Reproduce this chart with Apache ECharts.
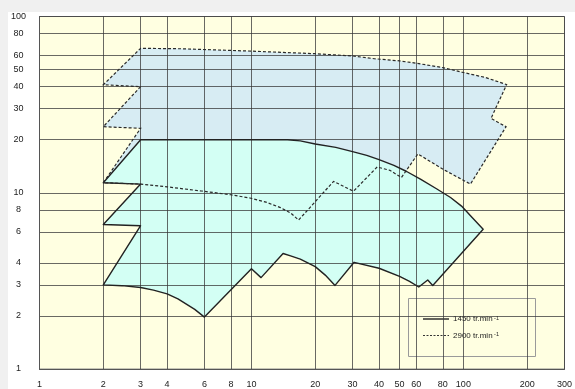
<!DOCTYPE html>
<html><head><meta charset="utf-8">
<script src="https://cdn.jsdelivr.net/npm/echarts@6/dist/echarts.min.js"></script>
<style>
html,body{margin:0;padding:0;background:#f0f0f0;width:575px;height:389px;overflow:hidden}
#c{position:absolute;left:8px;top:12px;width:567px;height:377px;background:#ffffff}
</style>
</head><body><div id="c"></div>
<script>
// Tick / grid values
const xTicks = [1, 2, 3, 4, 6, 8, 10, 20, 30, 40, 50, 60, 80, 100, 200, 300];
const yTicks = [1, 2, 3, 4, 6, 8, 10, 20, 30, 40, 50, 60, 80, 100];

// 1450 tr/min operating envelope (flow, head)
const x1450 = [2, 3, 2, 3, 2, 3, 6, 10, 14.8, 17, 20, 25, 30, 35, 40, 47, 54, 63, 75, 87, 98, 110, 124,
               71.7, 67.9, 61.6, 55.7, 50, 40, 30.5, 24.8, 22.3, 20, 17, 15.3, 14.1, 11.1, 10, 6, 5.4, 4.5, 4, 3.45, 3, 2.45, 2];
const y1450 = [3, 6.5, 6.6, 11.2, 11.4, 20, 20, 20, 20, 19.7, 18.9, 18.1, 17.1, 16.3, 15.4, 14.3, 13.2, 11.9, 10.5, 9.4, 8.4, 7.24, 6.2,
               2.98, 3.2, 2.92, 3.14, 3.35, 3.73, 4.03, 2.98, 3.41, 3.81, 4.2, 4.38, 4.52, 3.3, 3.7, 1.97, 2.18, 2.5, 2.67, 2.8, 2.9, 2.97, 3];

// 2900 tr/min operating envelope (flow, head)
const x2900 = [2, 3, 2, 3, 2, 3, 4.7, 10, 20, 30, 38, 50, 60, 80, 100, 127, 160, 135, 159, 108,
               81, 61, 51, 45, 39.2, 30.3, 24.4, 16.7, 15.3, 13.7, 11.7, 9.94, 8, 5.8, 4, 3, 2];
const y2900 = [11.4, 23.2, 23.7, 40, 41, 66, 65.6, 63.6, 61.5, 59.7, 57.6, 56, 54.3, 51.3, 48.1, 45.1, 41.1, 26.4, 23.7, 11.2,
               13.5, 16.6, 12.2, 13.4, 14, 10.2, 11.6, 7.0, 7.68, 8.24, 8.85, 9.31, 9.74, 10.23, 10.8, 11.2, 11.4];

const legendLabels = ['1450 tr.min', '2900 tr.min'];
const legendSup = '-1';

function pts(xs, ys) { return xs.map((x, i) => [x, ys[i]]); }
const poly1450 = pts(x1450, y1450);
const poly2900 = pts(x2900, y2900);

function polySeries(name, points, style, z) {
  return {
    type: 'custom', name: name, coordinateSystem: 'cartesian2d', z: z,
    data: points, encode: { x: 0, y: 1 }, silent: true, animation: false,
    renderItem: function (params, api) {
      if (params.dataIndex !== 0) return null;
      const p = points.map(q => api.coord(q));
      return { type: 'polygon', shape: { points: p }, style: style };
    }
  };
}

const FONT = 'Liberation Sans, Arial, sans-serif';
const gridLine = { show: true, lineStyle: { color: 'rgba(55,55,55,0.75)', width: 1 } };

const chart = echarts.init(document.getElementById('c'), null, { renderer: 'canvas' });
chart.setOption({
  animation: false,
  grid: { left: 29, top: 3, width: 529, height: 357, show: true,
          backgroundColor: '#FFFFE1', borderColor: '#8c8c8c', borderWidth: 1 },
  xAxis: {
    type: 'log', logBase: 10, min: 1, max: 300, z: 3,
    axisLine: { show: true, lineStyle: { color: '#555', width: 1 } },
    axisTick: { show: false, customValues: xTicks },
    axisLabel: { customValues: xTicks, fontSize: 9, color: '#222', margin: 11, fontFamily: FONT,
                 formatter: v => String(v) },
    splitLine: gridLine
  },
  yAxis: {
    type: 'log', logBase: 10, min: 1, max: 100, z: 3,
    axisLine: { show: true, lineStyle: { color: '#555', width: 1 } },
    axisTick: { show: false, customValues: yTicks },
    axisLabel: { customValues: yTicks, fontSize: 9, color: '#222', margin: 21, align: 'center',
                 fontFamily: FONT, formatter: v => String(v) },
    splitLine: gridLine
  },
  series: [
    polySeries('2900 fill', poly2900, { fill: '#D7ECF3', stroke: 'none' }, 1),
    polySeries('1450 fill', poly1450, { fill: '#D3FFF4', stroke: 'none' }, 2),
    polySeries('1450 tr.min-1', poly1450, { fill: 'none', stroke: '#222', lineWidth: 1.4, lineJoin: 'round' }, 5),
    polySeries('2900 tr.min-1', poly2900, { fill: 'none', stroke: '#2a2a2a', lineWidth: 1.2, lineDash: [3, 2] }, 6)
  ],
  graphic: [{
    type: 'group', left: 400, top: 286, z: 100,
    children: [
      { type: 'rect', shape: { x: 0.5, y: 0.5, width: 127, height: 58 },
        style: { fill: '#FFFFE1', stroke: '#9a9a9a', lineWidth: 1 } },
      { type: 'line', shape: { x1: 15, y1: 21, x2: 41, y2: 21 }, style: { stroke: '#222', lineWidth: 1.4 } },
      { type: 'text', x: 45, y: 21,
        style: { text: '{t|' + legendLabels[0] + '}{s| ' + legendSup + '}', verticalAlign: 'middle',
                 rich: { t: { fontSize: 8, fill: '#222', fontFamily: FONT },
                         s: { fontSize: 5.5, fill: '#222', fontFamily: FONT, verticalAlign: 'top' } } } },
      { type: 'line', shape: { x1: 15, y1: 37.5, x2: 41, y2: 37.5 },
        style: { stroke: '#333', lineWidth: 1, lineDash: [2, 1.5] } },
      { type: 'text', x: 45, y: 37.5,
        style: { text: '{t|' + legendLabels[1] + '}{s| ' + legendSup + '}', verticalAlign: 'middle',
                 rich: { t: { fontSize: 8, fill: '#222', fontFamily: FONT },
                         s: { fontSize: 5.5, fill: '#222', fontFamily: FONT, verticalAlign: 'top' } } } }
    ]
  }]
});
</script>
</body></html>
